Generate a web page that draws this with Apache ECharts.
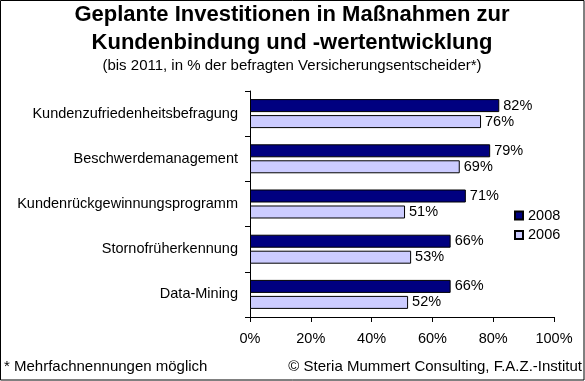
<!DOCTYPE html>
<html><head><meta charset="utf-8">
<script src="https://cdn.jsdelivr.net/npm/echarts@6/dist/echarts.min.js"></script>
<style>html,body{margin:0;padding:0;background:#fff}#c{width:585px;height:381px}</style>
</head><body><div id="c"></div>
<script>
const categories = ["Kundenzufriedenheitsbefragung","Beschwerdemanagement","Kundenrückgewinnungsprogramm","Stornofrüherkennung","Data-Mining"];
const values2008 = [82,79,71,66,66];
const values2006 = [76,69,51,53,52];
const xTicks = [0,20,40,60,80,100];
const F = "'Liberation Sans', Arial, sans-serif";
const chart = echarts.init(document.getElementById('c'), null, {renderer:'canvas'});
const lbl = {show:true, position:'right', distance:4, formatter:p=>p.value+'%', color:'#000', fontFamily:F, fontSize:14.5};
chart.setOption({
  animation:false,
  backgroundColor:'#fff',
  legend:{orient:'vertical', left:514, top:208, padding:0, itemWidth:8, itemHeight:8, itemGap:4.5, icon:'rect',
    textStyle:{fontFamily:F, fontSize:14.5, color:'#000'}, data:['2008','2006']},
  grid:{left:250, top:91, width:304, height:226},
  xAxis:{type:'value', min:xTicks[0], max:xTicks[xTicks.length-1], interval:xTicks[1]-xTicks[0],
    axisLine:{show:true, lineStyle:{color:'#000'}}, axisTick:{show:true, length:5, lineStyle:{color:'#000'}},
    splitLine:{show:false},
    axisLabel:{formatter:v=>v+'%', color:'#000', fontFamily:F, fontSize:14.5, margin:14}},
  yAxis:{type:'category', data:categories, inverse:true,
    axisLine:{show:true, lineStyle:{color:'#000'}}, axisTick:{show:true, length:5, lineStyle:{color:'#000'}},
    axisLabel:{color:'#000', fontFamily:F, fontSize:14.5, margin:12}},
  series:[
    {name:'2008', type:'bar', data:values2008, barWidth:13, barGap:'23%',
     itemStyle:{color:'#000080', borderColor:'#000', borderWidth:1}, label:lbl},
    {name:'2006', type:'bar', data:values2006, barWidth:13,
     itemStyle:{color:'#CCCCFF', borderColor:'#000', borderWidth:1}, label:lbl}
  ],
  graphic:[
    {type:'rect', shape:{x:0.5,y:0.5,width:583.5,height:379.5}, style:{fill:'none', stroke:'#000', lineWidth:1}, silent:true},
    {type:'text', x:292, y:15, style:{text:'Geplante Investitionen in Maßnahmen zur', font:'bold 22px '+F, fill:'#000', align:'center', verticalAlign:'middle'}},
    {type:'text', x:292, y:42.5, style:{text:'Kundenbindung und -wertentwicklung', font:'bold 22px '+F, fill:'#000', align:'center', verticalAlign:'middle'}},
    {type:'text', x:292, y:65.5, style:{text:'(bis 2011, in % der befragten Versicherungsentscheider*)', font:'15px '+F, fill:'#000', align:'center', verticalAlign:'middle'}},
    {type:'text', x:4, y:367, style:{text:'* Mehrfachnennungen möglich', font:'15px '+F, fill:'#000', align:'left', verticalAlign:'middle'}},
    {type:'text', x:582, y:367, style:{text:'© Steria Mummert Consulting, F.A.Z.-Institut', font:'15px '+F, fill:'#000', align:'right', verticalAlign:'middle'}}
  ]
});
</script></body></html>
